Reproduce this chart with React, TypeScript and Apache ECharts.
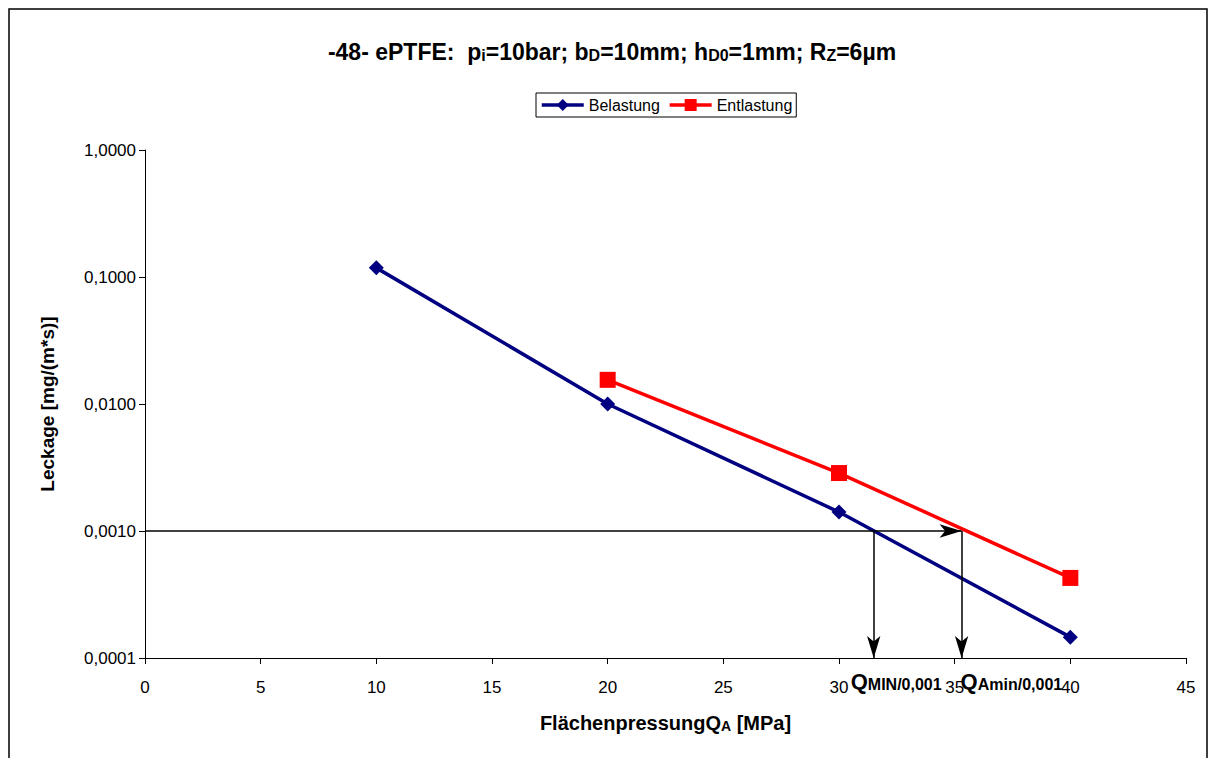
import React, { useEffect, useRef } from "react";
import * as echarts from "echarts";

const belastungX = [10, 20, 30, 40];
const belastungY = [0.118, 0.01, 0.00141, 0.000146];
const entlastungX = [20, 30, 40];
const entlastungY = [0.0155, 0.00286, 0.000427];
const threshold = 0.001;
const qMin = 31.5;
const qAmin = 35.3;
const xTicks = [0, 5, 10, 15, 20, 25, 30, 35, 40, 45];

const FONT = "'Liberation Sans', Arial, sans-serif";

export default function App() {
  const ref = useRef<HTMLDivElement>(null);
  useEffect(() => {
    if (!ref.current) return;
    const chart = echarts.init(ref.current, null, { renderer: "svg" });
    const arrowLine = { color: "#000", width: 1.5, type: "solid" as const };
    const option: any = {
      animation: false,
      backgroundColor: "#fff",
      textStyle: { fontFamily: FONT, color: "#000" },
      title: {
        left: "center",
        top: 22,
        text: "{b|-48- ePTFE:  p}{s|i}{b|=10bar; b}{s|D}{b|=10mm; h}{s|D0}{b|=1mm; R}{s|Z}{b|=6µm}",
        textStyle: {
          rich: {
            b: { fontFamily: FONT, fontSize: 23, fontWeight: "bold", color: "#000", verticalAlign: "bottom", lineHeight: 28 },
            s: { fontFamily: FONT, fontSize: 16, fontWeight: "bold", color: "#000", verticalAlign: "bottom", lineHeight: 15 },
          },
        },
      },
      legend: {
        left: 528,
        top: 85,
        data: ["Belastung", "Entlastung"],
        borderColor: "#000",
        borderWidth: 1,
        backgroundColor: "#fff",
        padding: [4, 4],
        itemGap: 8,
        itemWidth: 42,
        itemHeight: 15,
        lineStyle: { width: 3.5 },
        textStyle: { fontFamily: FONT, fontSize: 16, color: "#000" },
      },
      grid: { left: 137, top: 142, width: 1041, height: 508, containLabel: false },
      xAxis: {
        type: "value",
        min: xTicks[0],
        max: xTicks[xTicks.length - 1],
        interval: 5,
        name: "{b|Flächenpressung}{b|Q}{s|A}{b| [MPa]}",
        nameLocation: "middle",
        nameGap: 51,
        nameTextStyle: {
          rich: {
            b: { fontFamily: FONT, fontSize: 20, fontWeight: "bold", color: "#000", verticalAlign: "bottom", lineHeight: 24 },
            s: { fontFamily: FONT, fontSize: 14, fontWeight: "bold", color: "#000", verticalAlign: "bottom", lineHeight: 13 },
          },
        },
        axisLine: { onZero: false, lineStyle: { color: "#000", width: 1 } },
        axisTick: { length: 6, lineStyle: { color: "#000" } },
        axisLabel: { fontSize: 17, color: "#000", margin: 21, fontFamily: FONT },
        splitLine: { show: false },
      },
      yAxis: {
        type: "log",
        logBase: 10,
        min: 0.0001,
        max: 1,
        name: "Leckage [mg/(m*s)]",
        nameLocation: "middle",
        nameGap: 88,
        nameTextStyle: { fontFamily: FONT, fontSize: 19, fontWeight: "bold", color: "#000" },
        axisLine: { show: true, lineStyle: { color: "#000", width: 1 } },
        axisTick: { show: true, length: 6, lineStyle: { color: "#000" } },
        minorTick: { show: false },
        axisLabel: {
          fontSize: 17,
          color: "#000",
          margin: 9,
          fontFamily: FONT,
          formatter: (v: number) => v.toFixed(4).replace(".", ","),
        },
        splitLine: { show: false },
      },
      series: [
        {
          name: "Belastung",
          type: "line",
          data: belastungX.map((x, i) => [x, belastungY[i]]),
          symbol: "diamond",
          symbolSize: 15,
          lineStyle: { color: "#000080", width: 3.5 },
          itemStyle: { color: "#000080" },
          z: 3,
          markLine: {
            silent: true,
            symbol: ["none", "arrow"],
            symbolSize: [10, 22],
            label: { show: false },
            lineStyle: arrowLine,
            data: [
              [{ coord: [0, threshold] }, { coord: [qAmin, threshold] }],
              [{ coord: [qMin, threshold] }, { coord: [qMin, 0.0001] }],
              [{ coord: [qAmin, threshold] }, { coord: [qAmin, 0.0001] }],
            ],
          },
        },
        {
          name: "Entlastung",
          type: "line",
          data: entlastungX.map((x, i) => [x, entlastungY[i]]),
          symbol: "rect",
          symbolSize: 16,
          lineStyle: { color: "#ff0000", width: 3.5 },
          itemStyle: { color: "#ff0000" },
          z: 2,
        },
      ],
    };
    chart.setOption(option);

    const p1 = chart.convertToPixel({ gridIndex: 0 }, [qMin, 0.0001]) as number[];
    const p2 = chart.convertToPixel({ gridIndex: 0 }, [qAmin, 0.0001]) as number[];
    const rich = {
      q: { fontFamily: FONT, fontSize: 22, fontWeight: "bold", fill: "#000", verticalAlign: "bottom", lineHeight: 26 },
      s: { fontFamily: FONT, fontSize: 16, fontWeight: "bold", fill: "#000", verticalAlign: "bottom", lineHeight: 16 },
    };
    chart.setOption({
      graphic: [
        {
          type: "rect",
          shape: { x: 1, y: 1, width: 1198, height: 800 },
          style: { fill: "none", stroke: "#000", lineWidth: 1.5 },
          silent: true,
          z: -1,
        },
        {
          type: "text",
          x: p1[0] - 23,
          y: p1[1] + 8,
          style: { text: "{q|Q}{s|MIN/0,001}", rich, fill: "#000" },
        },
        {
          type: "text",
          x: p2[0] - 1,
          y: p2[1] + 8,
          style: { text: "{q|Q}{s|Amin/0,001}", rich, fill: "#000" },
        },
      ],
    });
    return () => chart.dispose();
  }, []);
  return <div ref={ref} style={{ width: 1208, height: 750 }} />;
}
